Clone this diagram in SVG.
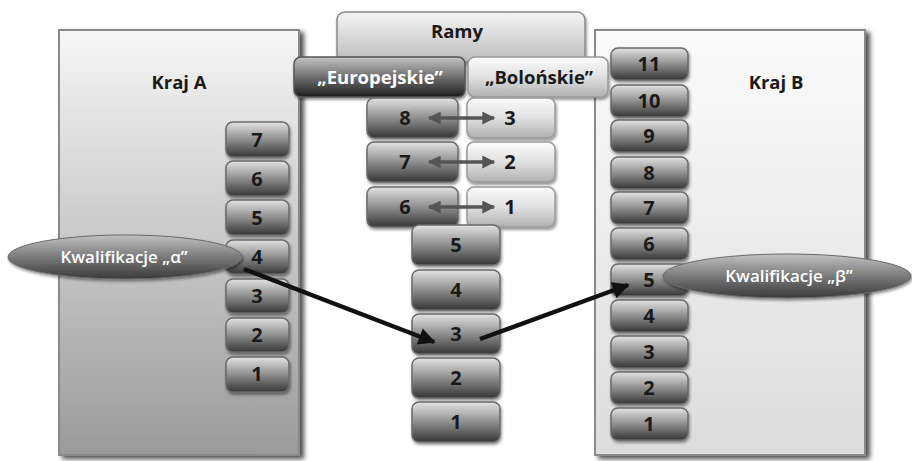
<svg xmlns="http://www.w3.org/2000/svg" width="912" height="461" viewBox="0 0 912 461">
  <defs>
    <linearGradient id="gPanelA" x1="0" y1="0" x2="0" y2="1">
      <stop offset="0" stop-color="#f6f6f6"/>
      <stop offset="1" stop-color="#9a9a9a"/>
    </linearGradient>
    <linearGradient id="gPanelB" x1="0" y1="0" x2="0" y2="1">
      <stop offset="0" stop-color="#fbfbfb"/>
      <stop offset="1" stop-color="#dcdcdc"/>
    </linearGradient>
    <linearGradient id="gRamy" x1="0" y1="0" x2="0" y2="1">
      <stop offset="0" stop-color="#f4f4f4"/>
      <stop offset="1" stop-color="#bcbcbc"/>
    </linearGradient>
    <linearGradient id="gDark" x1="0" y1="0" x2="0" y2="1">
      <stop offset="0" stop-color="#e2e2e2"/>
      <stop offset="0.45" stop-color="#979797"/>
      <stop offset="1" stop-color="#363636"/>
    </linearGradient>
    <linearGradient id="gHeadDark" x1="0" y1="0" x2="0" y2="1">
      <stop offset="0" stop-color="#c4c4c4"/>
      <stop offset="0.5" stop-color="#6e6e6e"/>
      <stop offset="1" stop-color="#1e1e1e"/>
    </linearGradient>
    <linearGradient id="gLight" x1="0" y1="0" x2="0" y2="1">
      <stop offset="0" stop-color="#fbfbfb"/>
      <stop offset="0.5" stop-color="#e0e0e0"/>
      <stop offset="1" stop-color="#b0b0b0"/>
    </linearGradient>
    <linearGradient id="gOval" x1="0" y1="0" x2="0" y2="1">
      <stop offset="0" stop-color="#c2c2c2"/>
      <stop offset="0.5" stop-color="#7a7a7a"/>
      <stop offset="1" stop-color="#3a3a3a"/>
    </linearGradient>
    <filter id="shadow" x="-10%" y="-10%" width="130%" height="130%">
      <feGaussianBlur in="SourceAlpha" stdDeviation="2.5"/>
      <feOffset dx="4" dy="3" result="b"/>
      <feComponentTransfer><feFuncA type="linear" slope="0.7"/></feComponentTransfer>
      <feMerge><feMergeNode/><feMergeNode in="SourceGraphic"/></feMerge>
    </filter>
    <filter id="soft" x="-10%" y="-20%" width="130%" height="150%">
      <feGaussianBlur in="SourceAlpha" stdDeviation="1.5"/>
      <feOffset dx="1" dy="2"/>
      <feComponentTransfer><feFuncA type="linear" slope="0.45"/></feComponentTransfer>
      <feMerge><feMergeNode/><feMergeNode in="SourceGraphic"/></feMerge>
    </filter>
    <marker id="headBlack" viewBox="0 0 10 10" refX="9" refY="5" markerWidth="19" markerHeight="17" markerUnits="userSpaceOnUse" orient="auto">
      <path d="M0,0 L10,5 L0,10 Z" fill="#111"/>
    </marker>
    <marker id="headGray" viewBox="0 0 10 10" refX="9" refY="5" markerWidth="16" markerHeight="13" markerUnits="userSpaceOnUse" orient="auto-start-reverse">
      <path d="M0,0 L10,5 L0,10 Z" fill="#555"/>
    </marker>
    <style>
      text { font-family: "Open Sans", "Liberation Sans", sans-serif; font-weight: 700; text-anchor: middle; }
      .panel { stroke: #8a8a8a; stroke-width: 2; }
      .box { fill: url(#gDark); stroke: #6a6a6a; stroke-width: 1.5; filter: url(#soft); }
      .lbox { fill: url(#gLight); stroke: #9a9a9a; stroke-width: 1.5; filter: url(#soft); }
      .num { font-size: 20px; fill: #1a1a1a; }
      .title { font-size: 18.5px; fill: #1a1a1a; }
      .head { font-size: 18.5px; }
      .oval { fill: url(#gOval); stroke: #6a6a6a; stroke-width: 1; filter: url(#soft); }
      .ovaltxt { font-size: 17px; font-weight: 600; fill: #ffffff; }
      .link { stroke: #111; stroke-width: 4.5; fill: none; marker-end: url(#headBlack); }
      .pair { stroke: #555; stroke-width: 3.5; fill: none; marker-start: url(#headGray); marker-end: url(#headGray); }
    </style>
  </defs>

  <!-- country panels -->
  <g id="kraj-a">
    <rect class="panel" x="59" y="30" width="240" height="425" fill="url(#gPanelA)" filter="url(#shadow)"/>
    <text class="title" x="179" y="89">Kraj A</text>
  </g>
  <g id="kraj-b">
    <rect class="panel" x="595" y="30" width="270" height="425" fill="url(#gPanelB)" filter="url(#shadow)"/>
    <text class="title" x="776" y="89">Kraj B</text>
  </g>

  <!-- frameworks header -->
  <g id="ramy">
    <rect x="337" y="12" width="248" height="50" rx="8" fill="url(#gRamy)" stroke="#8a8a8a" stroke-width="1.5" filter="url(#soft)"/>
    <text class="head" x="457" y="38" fill="#1a1a1a">Ramy</text>
  </g>
  <g id="europejskie">
    <rect x="294" y="57" width="171" height="40" rx="7" fill="url(#gHeadDark)" stroke="#555" stroke-width="1.5" filter="url(#soft)"/>
    <text class="head" x="380" y="84" fill="#ffffff">„Europejskie”</text>
  </g>
  <g id="bolonskie">
    <rect x="468" y="57" width="140" height="40" rx="7" fill="url(#gLight)" stroke="#999" stroke-width="1.5" filter="url(#soft)"/>
    <text class="head" x="539" y="84" fill="#1a1a1a">„Bolońskie”</text>
  </g>

  <!-- European framework levels 8-6 -->
  <g id="eu-8"><rect class="box" x="367" y="98" width="91" height="40" rx="7"/><text class="num" x="405" y="125">8</text></g>
  <g id="eu-7"><rect class="box" x="367" y="142" width="91" height="40" rx="7"/><text class="num" x="405" y="169">7</text></g>
  <g id="eu-6"><rect class="box" x="367" y="187" width="91" height="40" rx="7"/><text class="num" x="405" y="214">6</text></g>

  <!-- Bologna cycles 3-1 -->
  <g id="bo-3"><rect class="lbox" x="467" y="98" width="88" height="40" rx="7"/><text class="num" x="510" y="125">3</text></g>
  <g id="bo-2"><rect class="lbox" x="467" y="142" width="88" height="40" rx="7"/><text class="num" x="510" y="169">2</text></g>
  <g id="bo-1"><rect class="lbox" x="467" y="187" width="88" height="40" rx="7"/><text class="num" x="510" y="214">1</text></g>

  <!-- European framework levels 5-1 -->
  <g id="eu-5"><rect class="box" x="412" y="225" width="88" height="40" rx="7"/><text class="num" x="456" y="252">5</text></g>
  <g id="eu-4"><rect class="box" x="412" y="270" width="88" height="40" rx="7"/><text class="num" x="456" y="297">4</text></g>
  <g id="eu-3"><rect class="box" x="412" y="314" width="88" height="40" rx="7"/><text class="num" x="456" y="341">3</text></g>
  <g id="eu-2"><rect class="box" x="412" y="358" width="88" height="40" rx="7"/><text class="num" x="456" y="385">2</text></g>
  <g id="eu-1"><rect class="box" x="412" y="402" width="88" height="40" rx="7"/><text class="num" x="456" y="429">1</text></g>

  <!-- Country A levels -->
  <g id="a-7"><rect class="box" x="226" y="122" width="63" height="35" rx="7"/><text class="num" x="257" y="147">7</text></g>
  <g id="a-6"><rect class="box" x="226" y="161" width="63" height="35" rx="7"/><text class="num" x="257" y="186">6</text></g>
  <g id="a-5"><rect class="box" x="226" y="200" width="63" height="35" rx="7"/><text class="num" x="257" y="225">5</text></g>
  <g id="a-4"><rect class="box" x="226" y="240" width="63" height="34" rx="7"/><text class="num" x="257" y="264">4</text></g>
  <g id="a-3"><rect class="box" x="226" y="279" width="63" height="34" rx="7"/><text class="num" x="257" y="303">3</text></g>
  <g id="a-2"><rect class="box" x="226" y="318" width="63" height="34" rx="7"/><text class="num" x="257" y="342">2</text></g>
  <g id="a-1"><rect class="box" x="226" y="357" width="63" height="35" rx="7"/><text class="num" x="257" y="381">1</text></g>

  <!-- Country B levels -->
  <g id="b-11"><rect class="box" x="611" y="48" width="77" height="32" rx="7"/><text class="num" x="649" y="71">11</text></g>
  <g id="b-10"><rect class="box" x="611" y="85" width="77" height="32" rx="7"/><text class="num" x="649" y="108">10</text></g>
  <g id="b-9"><rect class="box" x="611" y="120" width="77" height="32" rx="7"/><text class="num" x="649" y="143">9</text></g>
  <g id="b-8"><rect class="box" x="611" y="157" width="77" height="32" rx="7"/><text class="num" x="649" y="180">8</text></g>
  <g id="b-7"><rect class="box" x="611" y="192" width="77" height="32" rx="7"/><text class="num" x="649" y="215">7</text></g>
  <g id="b-6"><rect class="box" x="611" y="228" width="77" height="32" rx="7"/><text class="num" x="649" y="251">6</text></g>
  <g id="b-5"><rect class="box" x="611" y="264" width="77" height="32" rx="7"/><text class="num" x="649" y="287">5</text></g>
  <g id="b-4"><rect class="box" x="611" y="300" width="77" height="32" rx="7"/><text class="num" x="649" y="323">4</text></g>
  <g id="b-3"><rect class="box" x="611" y="336" width="77" height="32" rx="7"/><text class="num" x="649" y="359">3</text></g>
  <g id="b-2"><rect class="box" x="611" y="372" width="77" height="32" rx="7"/><text class="num" x="649" y="395">2</text></g>
  <g id="b-1"><rect class="box" x="611" y="408" width="77" height="32" rx="7"/><text class="num" x="649" y="431">1</text></g>

  <!-- connectors -->
  <g id="connectors">
    <line class="pair" x1="429" y1="118" x2="494" y2="118"/>
    <line class="pair" x1="429" y1="162" x2="494" y2="162"/>
    <line class="pair" x1="429" y1="207" x2="494" y2="207"/>
    <line class="link" x1="244" y1="269" x2="434" y2="342"/>
    <line class="link" x1="480" y1="339" x2="628" y2="285"/>
  </g>

  <!-- qualification labels -->
  <g id="kwalifikacje-alfa">
    <ellipse class="oval" cx="125" cy="257" rx="117" ry="22"/>
    <text class="ovaltxt" x="124" y="263">Kwalifikacje „α”</text>
  </g>
  <g id="kwalifikacje-beta">
    <ellipse class="oval" cx="787" cy="276" rx="124" ry="22"/>
    <text class="ovaltxt" x="789" y="282">Kwalifikacje „β”</text>
  </g>
</svg>
